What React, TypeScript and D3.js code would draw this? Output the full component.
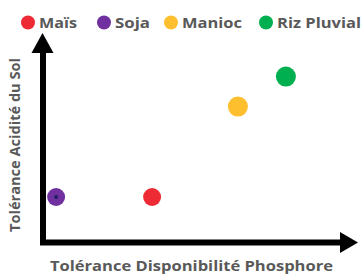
import React from "react";
import * as d3 from "d3";

const categories = ["Maïs", "Soja", "Manioc", "Riz Pluvial"];
const colors = ["#ee2a35", "#7030a0", "#fdbf2d", "#00b050"];
const xValues = [3.67, 0.47, 6.53, 8.13];
const yValues = [2.25, 2.25, 6.77, 8.27];
const radii = [9, 9, 10, 10];
const xTitle = "Tolérance Disponibilité Phosphore";
const yTitle = "Tolérance Acidité du Sol";

const W = 361;
const H = 275;

export default function App() {
  const x = d3.scaleLinear().domain([0, 10]).range([42, 342]);
  const y = d3.scaleLinear().domain([0, 10]).range([242, 42]);
  const legendX = [28, 104, 171, 266];
  const legendLen = [38, 35, 60, 84];
  const font = "'Open Sans', 'DejaVu Sans', sans-serif";
  return (
    <svg width={W} height={H} style={{ position: "absolute", left: 0, top: 0, background: "#fff" }}>
      {/* legend */}
      {categories.map((c, i) => (
        <g key={c}>
          <circle cx={legendX[i]} cy={22.5} r={7} fill={colors[i]} />
          <text
            x={legendX[i] + 11}
            y={28}
            fontFamily={font}
            fontWeight={700}
            fontSize={15}
            fill="#595959"
            textLength={legendLen[i]}
            lengthAdjust="spacingAndGlyphs"
          >
            {c}
          </text>
        </g>
      ))}
      {/* axes */}
      <line x1={43} y1={245} x2={43} y2={50} stroke="#000" strokeWidth={6} />
      <path d="M31.5,53 L42.5,33 L53.5,53 Z" fill="#000" />
      <line x1={40} y1={242.5} x2={342} y2={242.5} stroke="#000" strokeWidth={6} />
      <path d="M340,232 L358,242.5 L340,253 Z" fill="#000" />
      {/* points */}
      {categories.map((c, i) => (
        <circle key={c} cx={x(xValues[i])} cy={y(yValues[i])} r={radii[i]} fill={colors[i]} />
      ))}
      <circle cx={x(xValues[1])} cy={y(yValues[1])} r={2} fill="#1f1f5f" />
      {/* titles */}
      <text
        x={191.5}
        y={271}
        textAnchor="middle"
        fontFamily={font}
        fontWeight={700}
        fontSize={13.5}
        fill="#595959"
        textLength={283}
        lengthAdjust="spacingAndGlyphs"
      >
        {xTitle}
      </text>
      <text
        transform={`translate(20,145) rotate(-90)`}
        textAnchor="middle"
        fontFamily={font}
        fontWeight={700}
        fontSize={13.5}
        fill="#595959"
        textLength={174}
        lengthAdjust="spacingAndGlyphs"
      >
        {yTitle}
      </text>
    </svg>
  );
}
